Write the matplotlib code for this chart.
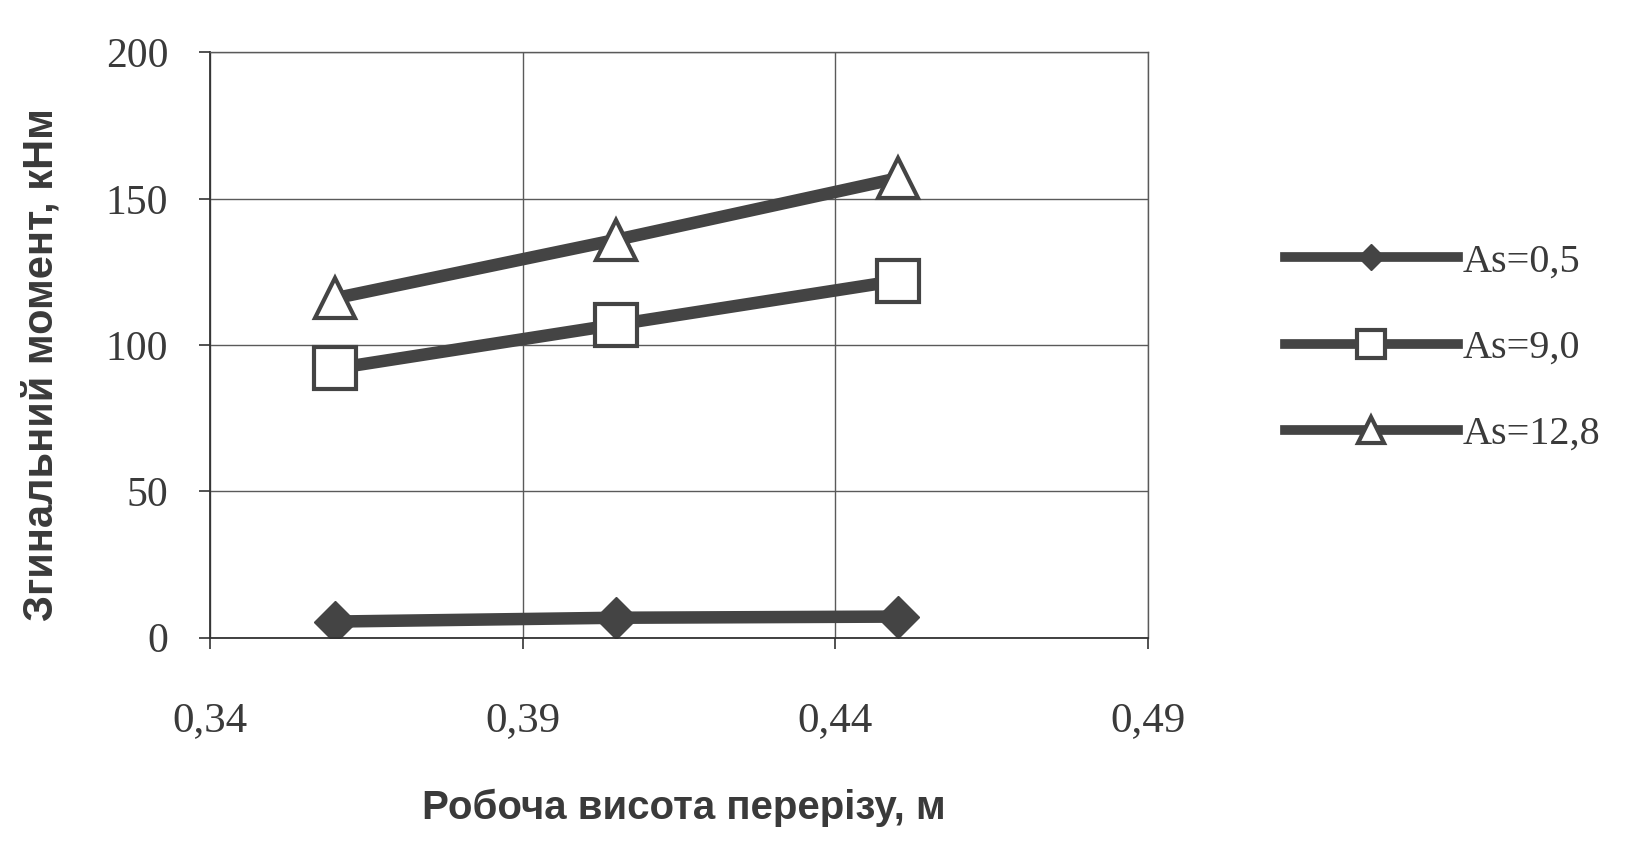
import matplotlib
matplotlib.use("Agg")
import matplotlib.pyplot as plt

# effective depth of section, m
depth = [0.360, 0.405, 0.450]

# bending moment for each reinforcement area
m_as_05 = [5.5, 6.8, 7.2]
m_as_90 = [92, 107, 122]
m_as_128 = [116, 136, 157]

labels = ["As=0,5", "As=9,0", "As=12,8"]
x_ticks = [0.34, 0.39, 0.44, 0.49]
x_tick_labels = ["0,34", "0,39", "0,44", "0,49"]
y_ticks = [0, 50, 100, 150, 200]

line_col = "#444444"
grid_col = "#5a5a5a"
text_col = "#3a3a3a"

fig = plt.figure(figsize=(16.47, 8.41), dpi=100)
ax = fig.add_axes([0.1275, 0.2418, 0.5695, 0.6958])

ax.plot(depth, m_as_05, color=line_col, lw=9, marker="D", ms=21,
        mfc=line_col, mec=line_col, label=labels[0])
ax.plot(depth, m_as_90, color=line_col, lw=9, marker="s", ms=30,
        mfc="white", mec=line_col, mew=3, label=labels[1])
ax.plot(depth, m_as_128, color=line_col, lw=9, marker="^", ms=29,
        mfc="white", mec=line_col, mew=3, label=labels[2])

ax.set_xlim(0.34, 0.49)
ax.set_ylim(0, 200)
ax.set_xticks(x_ticks)
ax.set_xticklabels(x_tick_labels)
ax.set_yticks(y_ticks)
ax.grid(True, color=grid_col, lw=1.0)
ax.set_axisbelow(True)

for side in ["top", "right"]:
    ax.spines[side].set_color(grid_col)
    ax.spines[side].set_linewidth(1.0)
for side in ["left", "bottom"]:
    ax.spines[side].set_color("#333333")
    ax.spines[side].set_linewidth(1.3)

ax.tick_params(axis="both", colors="#333333", labelcolor=text_col,
               length=8, width=1.2)
ax.tick_params(axis="y", pad=22, labelsize=30)
ax.tick_params(axis="x", pad=38, labelsize=31)
for t in ax.get_xticklabels() + ax.get_yticklabels():
    t.set_fontfamily("Liberation Serif")

fig.text(0.415, 0.04, "Робоча висота перерізу, м", ha="center", va="center",
         fontsize=29, fontweight="bold", family="Liberation Sans", color=text_col)
fig.text(0.025, 0.566, "Згинальний момент, кНм", ha="center", va="center",
         rotation=90, fontsize=30, fontweight="bold", family="Liberation Sans",
         color=text_col)

leg = fig.legend(loc="upper left", bbox_to_anchor=(0.758, 0.754), frameon=False,
                 handlelength=4.3, handletextpad=0.12, labelspacing=1.22,
                 numpoints=1, markerscale=0.65,
                 prop={"family": "Liberation Serif", "size": 29})
for t in leg.get_texts():
    t.set_color(text_col)
for h in leg.legend_handles:
    h.set_linewidth(7)

fig.savefig("out.png", dpi=100, facecolor="white")
